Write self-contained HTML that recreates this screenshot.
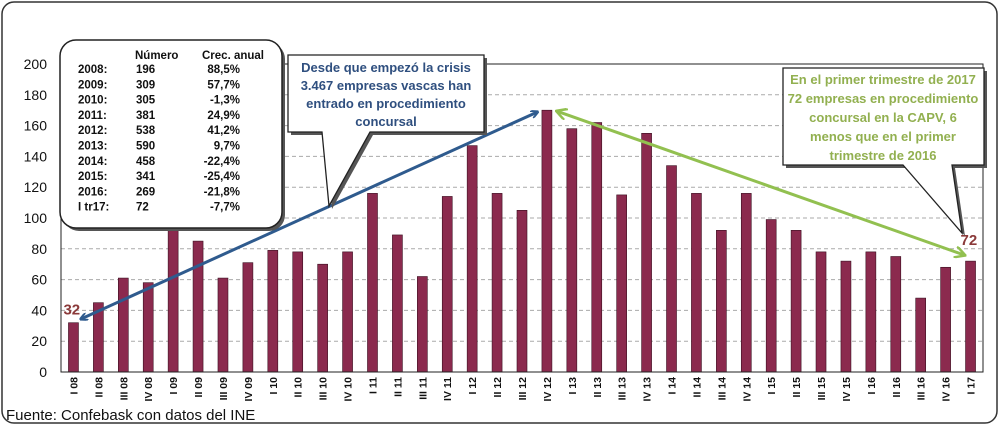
<!DOCTYPE html>
<html><head><meta charset="utf-8"><style>
body{margin:0;background:#fff;font-family:"Liberation Sans",sans-serif;}
svg{display:block}
</style></head><body>
<svg width="1000" height="427" viewBox="0 0 1000 427">
<defs>
<marker id="ab" markerWidth="8" markerHeight="8" refX="6" refY="4" orient="auto-start-reverse" markerUnits="userSpaceOnUse" viewBox="0 0 8 8"><path d="M0,0 L8,4 L0,8" fill="none" stroke="#2f5b8e" stroke-width="2"/></marker>
<marker id="ag" markerWidth="12" markerHeight="12" refX="10" refY="6" orient="auto-start-reverse" markerUnits="userSpaceOnUse" viewBox="0 0 12 12"><path d="M0,0 L11,6 L0,12" fill="none" stroke="#92c050" stroke-width="2.5"/></marker>
</defs>
<rect x="2" y="2" width="995" height="421" rx="12" fill="#fff" stroke="#333" stroke-width="1.5"/>
<g id="grid"></g>
<g id="bars"></g>
<g id="yt"></g>
<g id="xt"></g>
<rect x="61" y="64" width="922" height="308" fill="none" stroke="#222" stroke-width="1"/>
<text x="6" y="420" font-size="15" fill="#111">Fuente: Confebask con datos del INE</text>

<line id="blueArrow" stroke="#2f5b8e" stroke-width="3" marker-start="url(#ab)" marker-end="url(#ab)"/>
<line id="greenArrow" stroke="#92c050" stroke-width="3" marker-start="url(#ag)" marker-end="url(#ag)"/>
<text id="lbl32" font-size="15" font-weight="bold" fill="#8b3a3a">32</text>
<text id="lbl72" font-size="15" font-weight="bold" fill="#8b3a3a">72</text>

<g>
<rect x="63" y="43" width="222" height="188" rx="16" fill="#555"/>
<rect x="60" y="40" width="222" height="188" rx="16" fill="#fff" stroke="#222" stroke-width="1.5"/>
<g font-size="11.5" font-weight="bold" fill="#111">
<text x="135" y="59">Número</text><text x="202" y="59">Crec. anual</text>
</g>
<g id="tbl" font-size="11.5" font-weight="bold" fill="#111"></g>
</g>

<g>
<path d="M291,58 L487,58 L487,135 L373,135 L332,209 L325,135 L291,135 Z" fill="#555"/>
<path d="M288,55 L484,55 L484,132 L370,132 L329,206 L322,132 L288,132 Z" fill="#fff" stroke="#222" stroke-width="1.3"/>
<g font-size="13" font-weight="bold" fill="#2f4f7f" text-anchor="middle">
<text x="386" y="72">Desde que empezó la crisis</text>
<text x="386" y="90">3.467 empresas vascas han</text>
<text x="386" y="108">entrado en procedimiento</text>
<text x="386" y="126">concursal</text>
</g></g>

<g>
<path d="M786,71 L987,71 L987,168 L955,168 L965,236 L906,168 L786,168 Z" fill="#555"/>
<path d="M783,68 L984,68 L984,165 L952,165 L962,233 L903,165 L783,165 Z" fill="#fff" stroke="#222" stroke-width="1.3"/>
<g font-size="13" font-weight="bold" fill="#92b050" text-anchor="middle">
<text x="883" y="84">En el primer trimestre de 2017</text>
<text x="883" y="103">72 empresas en procedimiento</text>
<text x="883" y="122">concursal en la CAPV, 6</text>
<text x="883" y="141">menos que en el primer</text>
<text x="883" y="160">trimestre de 2016</text>
</g></g>
</svg>
<script>
const categories=["I 08","II 08","III 08","IV 08","I 09","II 09","III 09","IV 09","I 10","II 10","III 10","IV 10","I 11","II 11","III 11","IV 11","I 12","II 12","III 12","IV 12","I 13","II 13","III 13","IV 13","I 14","II 14","III 14","IV 14","I 15","II 15","III 15","IV 15","I 16","II 16","III 16","IV 16","I 17"];
const values=[32,45,61,58,92,85,61,71,79,78,70,78,116,89,62,114,147,116,105,170,158,162,115,155,134,116,92,116,99,92,78,72,78,75,48,68,72];
const yTicks=[0,20,40,60,80,100,120,140,160,180,200];
const tblYears=["2008:","2009:","2010:","2011:","2012:","2013:","2014:","2015:","2016:","I tr17:"];
const tblNums=["196","309","305","381","538","590","458","341","269","72"];
const tblGrowth=["88,5%","57,7%","-1,3%","24,9%","41,2%","9,7%","-22,4%","-25,4%","-21,8%","-7,7%"];
const NS="http://www.w3.org/2000/svg";
const L=61,T=64,W=922,H=308,band=W/categories.length;
const y=v=>T+H-v/200*H;
const xc=i=>L+band*(i+0.5);
function mk(t,a,p){const e=document.createElementNS(NS,t);for(const k in a)e.setAttribute(k,a[k]);p.appendChild(e);return e;}
const grid=document.getElementById('grid'),yt=document.getElementById('yt'),bars=document.getElementById('bars'),xt=document.getElementById('xt');
yTicks.forEach(v=>{
 if(v>0&&v<200){const g=mk('line',{x1:L,x2:L+W,y1:y(v),y2:y(v),stroke:'#aaa','stroke-dasharray':'4,3'},grid);
 
 }
 const t=mk('text',{x:47,y:y(v)+5,'font-size':14,'text-anchor':'end',fill:'#111'},yt);
 t.textContent=v;
 
 
});
values.forEach((v,i)=>{
 const r=mk('rect',{x:xc(i)-5,y:y(v),width:10,height:y(0)-y(v),fill:'#8b2a4e',stroke:'#3a0f20','stroke-width':0.6},bars);
 
 
 const t=mk('text',{transform:`translate(${xc(i)+4},${y(0)+5}) rotate(-90)`,'font-size':10.5,'font-weight':'bold','text-anchor':'end',fill:'#111'},xt);
 t.textContent=categories[i];
 
 
});
const tbl=document.getElementById('tbl');
tblYears.forEach((yr,i)=>{
 const yy=73+i*15.3;
 mk('text',{x:78,y:yy},tbl).textContent=yr;
 mk('text',{x:136,y:yy},tbl).textContent=tblNums[i];
 mk('text',{x:240,y:yy,'text-anchor':'end'},tbl).textContent=tblGrowth[i];
});
const n=values.length-1, mi=values.indexOf(Math.max(...values));
const ba=document.getElementById('blueArrow');
ba.setAttribute('x1',xc(0)+8);ba.setAttribute('y1',y(values[0])-4);
ba.setAttribute('x2',xc(mi)-10);ba.setAttribute('y2',y(values[mi])+2);
const ga=document.getElementById('greenArrow');
ga.setAttribute('x1',xc(mi)+10);ga.setAttribute('y1',y(values[mi])+1);
ga.setAttribute('x2',xc(n)-6);ga.setAttribute('y2',y(values[n])-6);
const l32=document.getElementById('lbl32');l32.setAttribute('x',xc(0)-10);l32.setAttribute('y',y(values[0])-8);
const l72=document.getElementById('lbl72');l72.setAttribute('x',xc(n)-10);l72.setAttribute('y',y(values[n])-16);
</script>
</body></html>
